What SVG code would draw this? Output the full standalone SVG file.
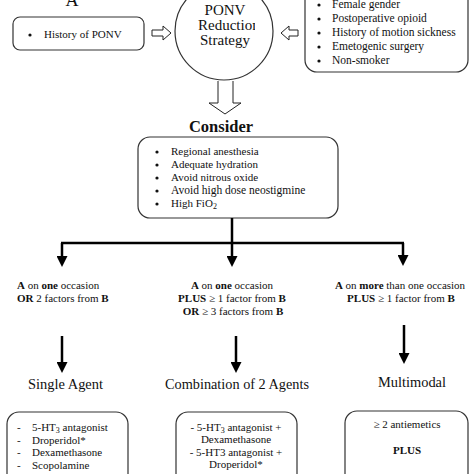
<svg xmlns="http://www.w3.org/2000/svg" width="474" height="474" viewBox="0 0 474 474">
<style>
text{font-family:"Liberation Serif","Times New Roman",serif;fill:#111}
.t{font-size:11.5px}
.s{font-size:11px}
.h{font-size:15.5px}
.b{font-weight:bold}
.box{fill:#fff;stroke:#333;stroke-width:1.2}
.hollow{fill:#fff;stroke:#222;stroke-width:1}
.c{stroke:#000;stroke-width:2.5;fill:none}
.sub{font-size:8px}
</style>
<defs>
<marker id="ah" markerUnits="userSpaceOnUse" markerWidth="11" markerHeight="11" refX="5" refY="5.5" orient="auto">
<path d="M0,0 L11,5.5 L0,11 z" fill="#000"/>
</marker>
<clipPath id="circ"><rect x="176" y="-20" width="79" height="100"/></clipPath>
</defs>
<rect width="474" height="474" fill="#fff"/>

<g id="labelA"><text x="72" y="6" font-size="18" text-anchor="middle">A</text></g>

<g id="history">
<rect class="box" x="13" y="17" width="131" height="33" rx="7"/>
<circle cx="30" cy="35" r="1.6" fill="#111"/>
<text class="s" x="44" y="38">History of PONV</text>
</g>

<g id="strategy">
<circle cx="224" cy="31" r="49" fill="#fff" stroke="#333" stroke-width="1.2"/>
<g clip-path="url(#circ)">
<text x="225" y="15" font-size="15" text-anchor="middle">PONV</text>
<text x="198" y="30" font-size="15">Reduction</text>
<text x="225" y="45" font-size="15" text-anchor="middle">Strategy</text>
</g>
</g>

<g id="factors">
<rect class="box" x="305" y="-15" width="163" height="87" rx="12"/>
<g fill="#111">
<circle cx="319" cy="5" r="1.6"/><circle cx="319" cy="19" r="1.6"/><circle cx="319" cy="33" r="1.6"/><circle cx="319" cy="47" r="1.6"/><circle cx="319" cy="61" r="1.6"/>
</g>
<text class="t" x="332" y="8">Female gender</text>
<text class="t" x="332" y="22">Postoperative opioid</text>
<text class="t" x="332" y="36">History of motion sickness</text>
<text class="t" x="332" y="50">Emetogenic surgery</text>
<text class="t" x="332" y="64">Non-smoker</text>
</g>

<g id="consider">
<text x="221" y="132" font-size="16.5" font-weight="bold" text-anchor="middle">Consider</text>
<rect class="box" x="138" y="137" width="200" height="81" rx="12"/>
<g fill="#111">
<circle cx="157" cy="152" r="1.6"/><circle cx="157" cy="165" r="1.6"/><circle cx="157" cy="178" r="1.6"/><circle cx="157" cy="191" r="1.6"/><circle cx="157" cy="204" r="1.6"/>
</g>
<text class="s" x="171" y="155">Regional anesthesia</text>
<text class="s" x="171" y="168">Adequate hydration</text>
<text class="s" x="171" y="181">Avoid nitrous oxide</text>
<text class="t" x="171" y="194">Avoid high dose neostigmine</text>
<text class="s" x="171" y="207">High FiO<tspan class="sub" baseline-shift="-2">2</tspan></text>
</g>

<g id="crit1">
<text class="s" x="17" y="289"><tspan class="b">A</tspan> on <tspan class="b">one</tspan> occasion</text>
<text class="s" x="17" y="302"><tspan class="b">OR</tspan> 2 factors from <tspan class="b">B</tspan></text>
</g>
<g id="crit2">
<text class="s" x="232" y="289" text-anchor="middle"><tspan class="b">A</tspan> on <tspan class="b">one</tspan> occasion</text>
<text class="s" x="232" y="302" text-anchor="middle"><tspan class="b">PLUS</tspan> ≥ 1 factor from <tspan class="b">B</tspan></text>
<text class="s" x="233" y="315" text-anchor="middle"><tspan class="b">OR</tspan> ≥ 3 factors from <tspan class="b">B</tspan></text>
</g>
<g id="crit3">
<text class="s" x="400" y="289" text-anchor="middle"><tspan class="b">A</tspan> on <tspan class="b">more</tspan> than one occasion</text>
<text class="s" x="401" y="302" text-anchor="middle"><tspan class="b">PLUS</tspan> ≥ 1 factor from <tspan class="b">B</tspan></text>
</g>

<g id="single">
<text class="h" x="28" y="389" textLength="75" lengthAdjust="spacingAndGlyphs">Single Agent</text>
<rect class="box" x="7" y="412" width="121" height="80" rx="12"/>
<text class="s" x="17" y="431">-</text><text class="s" x="32" y="431">5-HT<tspan class="sub" baseline-shift="-1.5">3</tspan> antagonist</text>
<text class="s" x="17" y="444">-</text><text class="s" x="32" y="444">Droperidol*</text>
<text class="s" x="17" y="456">-</text><text class="s" x="32" y="456">Dexamethasone</text>
<text class="s" x="17" y="469">-</text><text class="s" x="32" y="469">Scopolamine</text>
</g>

<g id="combination">
<text class="h" x="165" y="389" textLength="144" lengthAdjust="spacingAndGlyphs">Combination of 2 Agents</text>
<rect class="box" x="176" y="412" width="121" height="80" rx="12"/>
<text class="s" x="236" y="431" text-anchor="middle">- 5-HT<tspan class="sub" baseline-shift="-1.5">3</tspan> antagonist +</text>
<text class="s" x="236" y="443" text-anchor="middle">Dexamethasone</text>
<text class="s" x="236" y="456" text-anchor="middle">- 5-HT3 antagonist +</text>
<text class="s" x="236" y="468" text-anchor="middle">Droperidol*</text>
</g>

<g id="multimodal">
<text class="h" x="378" y="387" textLength="68" lengthAdjust="spacingAndGlyphs">Multimodal</text>
<rect class="box" x="345" y="411" width="123" height="80" rx="12"/>
<text class="s" x="407" y="428" text-anchor="middle">≥ 2 antiemetics</text>
<text class="s b" x="407" y="454" text-anchor="middle">PLUS</text>
</g>

<g id="connectors">
<path class="hollow" d="M152,30 L163,30 L163,26 L171,33 L163,40 L163,36 L152,36 Z"/>
<path class="hollow" d="M298,30 L289,30 L289,26 L281,33 L289,40 L289,36 L298,36 Z"/>
<path class="hollow" d="M218,81 L218,103 L209,103 L225,114 L241,103 L233,103 L233,81"/>
<path class="c" d="M232,218 L232,243"/>
<path class="c" d="M61,243 L404,243"/>
<path class="c" d="M62,243 L62,261" marker-end="url(#ah)"/>
<path class="c" d="M232,243 L232,261" marker-end="url(#ah)"/>
<path class="c" d="M403,243 L403,260" marker-end="url(#ah)"/>
<path class="c" d="M62,336 L62,367" marker-end="url(#ah)"/>
<path class="c" d="M236,336 L236,367" marker-end="url(#ah)"/>
<path class="c" d="M404,325 L404,358" marker-end="url(#ah)"/>
</g>
</svg>
